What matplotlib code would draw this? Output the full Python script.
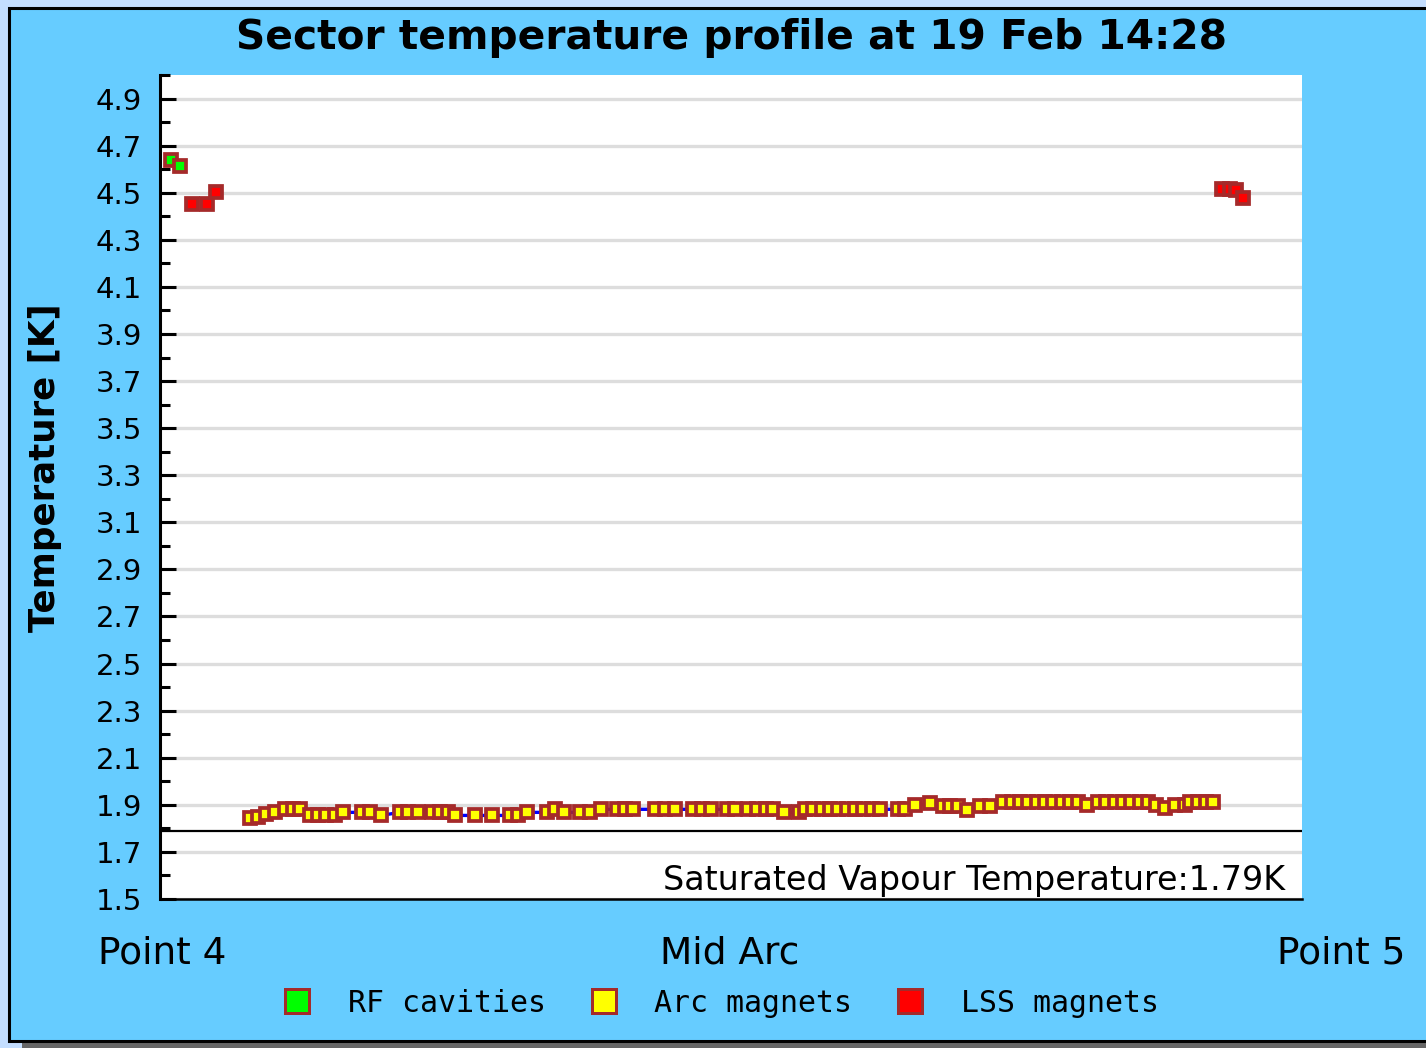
import matplotlib
matplotlib.use('Agg')
import matplotlib.pyplot as plt
from matplotlib.lines import Line2D
from matplotlib.patches import Rectangle
from matplotlib.ticker import MultipleLocator, FixedLocator

# position along the sector (arbitrary units, 0 = Point 4, 1142 = Point 5)
rf_x = [11, 20]
rf_t = [4.64, 4.615]

lss_x = [32, 47, 56, 1062, 1070, 1076, 1083]
lss_t = [4.453, 4.453, 4.504, 4.517, 4.517, 4.51, 4.479]

arc_x = [90, 98, 106, 115, 125, 133, 140, 150, 158, 166, 175, 183, 202, 210,
         221, 240, 248, 258, 272, 280, 288, 295, 315, 332, 350, 358, 367, 387,
         395, 404, 420, 430, 441, 457, 465, 473, 495, 505, 515, 533, 542, 551,
         567, 575, 588, 597, 606, 613, 624, 639, 645, 653, 662, 670, 678, 687,
         695, 703, 712, 720, 738, 745, 755, 770, 783, 790, 798, 807, 820, 830,
         843, 852, 860, 868, 877, 885, 893, 902, 910, 918, 927, 938, 946, 955,
         963, 971, 980, 988, 996, 1005, 1015, 1025, 1030, 1038, 1046, 1053]
arc_t = [1.843, 1.85, 1.86, 1.868, 1.881, 1.881, 1.881, 1.855, 1.855, 1.855,
         1.855, 1.868, 1.868, 1.868, 1.855, 1.868, 1.868, 1.868, 1.868, 1.868,
         1.868, 1.855, 1.855, 1.855, 1.855, 1.855, 1.868, 1.868, 1.881, 1.868,
         1.868, 1.868, 1.881, 1.881, 1.881, 1.881, 1.881, 1.881, 1.881, 1.881,
         1.881, 1.881, 1.881, 1.881, 1.881, 1.881, 1.881, 1.881, 1.868, 1.868,
         1.881, 1.881, 1.881, 1.881, 1.881, 1.881, 1.881, 1.881, 1.881, 1.881,
         1.881, 1.881, 1.898, 1.906, 1.894, 1.894, 1.894, 1.877, 1.894, 1.894,
         1.911, 1.911, 1.911, 1.911, 1.911, 1.911, 1.911, 1.911, 1.911, 1.911,
         1.898, 1.911, 1.911, 1.911, 1.911, 1.911, 1.911, 1.911, 1.898, 1.885,
         1.898, 1.898, 1.911, 1.911, 1.911, 1.911]

svt = 1.79
yticks = [1.5, 1.7, 1.9, 2.1, 2.3, 2.5, 2.7, 2.9, 3.1, 3.3, 3.5, 3.7, 3.9,
          4.1, 4.3, 4.5, 4.7, 4.9]

legend_labels = ['RF cavities', 'Arc magnets', 'LSS magnets']
legend_colors = ['#00ff00', '#ffff00', '#ff0000']

EDGE = '#a52a2a'
PANEL = '#66ccff'

W, H = 1426, 1048
fig = plt.figure(figsize=(W / 100, H / 100), dpi=100, facecolor='#c4deff')

# shadow + panel
fig.add_artist(Rectangle((22 / W, 0), 1, 8 / H, transform=fig.transFigure,
                         facecolor='#666666', edgecolor='none', zorder=0))
fig.add_artist(Rectangle((8.5 / W, 1 - 1040.5 / H), 1.0, 1033 / H,
                         transform=fig.transFigure, facecolor=PANEL,
                         edgecolor='black', linewidth=2.2, zorder=0))

ax = fig.add_axes([160 / W, 1 - 899 / H, 1142 / W, 824 / H])
ax.set_facecolor('white')
ax.set_xlim(0, 1142)
ax.set_ylim(1.5, 5.0)

ax.yaxis.set_major_locator(FixedLocator(yticks))
ax.yaxis.set_minor_locator(MultipleLocator(0.1))
ax.set_yticklabels([f'{v:.1f}' for v in yticks])
ax.tick_params(axis='y', which='major', direction='in', length=11.5, width=2.2,
               labelsize=21, pad=13)
ax.tick_params(axis='y', which='minor', direction='in', length=7, width=2.2)
ax.set_xticks([])
ax.grid(axis='y', which='major', color='#dddddd', linewidth=2.4, zorder=0)
ax.set_axisbelow(True)

for side in ['top', 'right']:
    ax.spines[side].set_visible(False)
ax.spines['left'].set_linewidth(2.2)
ax.spines['bottom'].set_linewidth(1.8)

ax.axhline(svt, color='black', linewidth=1.6, zorder=2)
ax.text(0.985, 0.002, f'Saturated Vapour Temperature:{svt}K', transform=ax.transAxes,
        ha='right', va='bottom', fontsize=24)

mk = dict(marker='s', markersize=9.0, markeredgewidth=2.7, markeredgecolor=EDGE)
ax.plot(arc_x, arc_t, color='#0000ff', linewidth=2.4, markerfacecolor='#ffff00',
        zorder=3, **mk)
ax.plot(rf_x, rf_t, linestyle='none', markerfacecolor='#00ff00', zorder=4, **mk)
ax.plot(lss_x, lss_t, linestyle='none', markerfacecolor='#ff0000', zorder=4, **mk)

ax.set_title('Sector temperature profile at 19 Feb 14:28', fontsize=29.3,
             fontweight='bold', pad=19)
fig.text(45 / W, 1 - 468 / H, 'Temperature [K]', rotation=90, ha='center',
         va='center', fontsize=25.7, fontweight='bold')

# axis end labels
ylab = 1 - 953 / H
fig.text(98 / W, ylab, 'Point 4', ha='left', va='center', fontsize=27)
fig.text(730 / W, ylab, 'Mid Arc', ha='center', va='center', fontsize=27)
fig.text(1405 / W, ylab, 'Point 5', ha='right', va='center', fontsize=27)

# legend
for i, (lab, col) in enumerate(zip(legend_labels, legend_colors)):
    mx = (297 + 306.5 * i) / W
    fig.add_artist(Line2D([mx], [1 - 1001 / H], transform=fig.transFigure,
                          marker='s', markersize=17, markeredgewidth=2.16,
                          markeredgecolor=EDGE, markerfacecolor=col))
    fig.text((348 + 306.5 * i) / W, 1 - 1003 / H, lab, ha='left', va='center',
             fontsize=21.5, family='DejaVu Sans Mono')

fig.savefig('out.png', dpi=100, facecolor=fig.get_facecolor())
plt.close(fig)
